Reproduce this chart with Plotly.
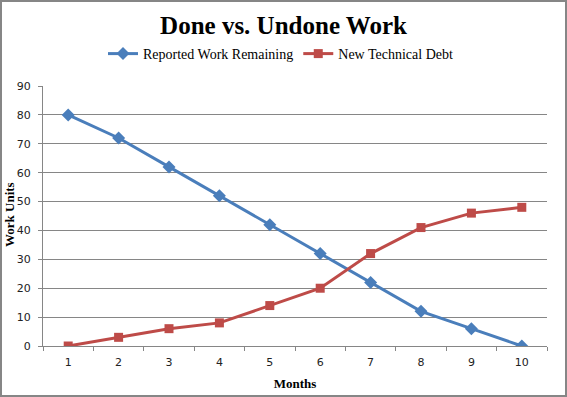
import plotly.graph_objects as go

months = ["1", "2", "3", "4", "5", "6", "7", "8", "9", "10"]
work_remaining = [80, 72, 62, 52, 42, 32, 22, 12, 6, 0]
tech_debt = [0, 3, 6, 8, 14, 20, 32, 41, 46, 48]
y_ticks = [0, 10, 20, 30, 40, 50, 60, 70, 80, 90]

W, H = 567, 397
ml, mr, mt, mb = 43, 20, 86, 51
pw, ph = W - ml - mr, H - mt - mb

fig = go.Figure()
fig.add_trace(go.Scatter(
    x=months, y=work_remaining, name="Reported Work Remaining",
    mode="lines+markers",
    line=dict(color="#4A7EBB", width=3),
    marker=dict(symbol="diamond", size=10, color="#4A7EBB"),
))
fig.add_trace(go.Scatter(
    x=months, y=tech_debt, name="New Technical Debt",
    mode="lines+markers",
    line=dict(color="#BE4B48", width=3),
    marker=dict(symbol="square", size=9, color="#BE4B48"),
))

fig.update_layout(
    width=W, height=H,
    margin=dict(l=ml, r=mr, t=mt, b=mb, pad=0, autoexpand=False),
    paper_bgcolor="white", plot_bgcolor="white",
    title=dict(text="<b>Done vs. Undone Work</b>", x=0.5, xref="container", xanchor="center",
               y=1 - 25 / H, yanchor="middle", automargin=False,
               font=dict(family="Liberation Serif", size=25, color="black")),
    showlegend=True,
    legend=dict(orientation="h", x=(103 - ml) / pw, xanchor="left",
                y=1 + (mt - 54) / ph, yanchor="middle",
                font=dict(family="Liberation Serif", size=14, color="black"),
                itemwidth=30, tracegroupgap=0, bgcolor="rgba(0,0,0,0)"),
    xaxis=dict(type="category", range=[-0.5, 9.5], tickson="boundaries", ticks="outside", ticklen=4,
               automargin=False, ticklabelstandoff=6,
               tickcolor="#868686", showline=True, linecolor="#868686", linewidth=1,
               showgrid=False, tickfont=dict(family="DejaVu Sans", size=11, color="#222"),
               title=dict(text="<b>Months</b>", standoff=10,
                          font=dict(family="Liberation Serif", size=13, color="black"))),
    yaxis=dict(range=[0, 90], tickvals=y_ticks, ticks="outside", ticklen=4,
               automargin=False, ticklabelstandoff=5,
               tickcolor="#868686", showline=True, linecolor="#868686", linewidth=1,
               showgrid=True, gridcolor="#868686", gridwidth=1, zeroline=False,
               tickfont=dict(family="DejaVu Sans", size=11, color="#222")),
    annotations=[dict(text="<b>Work Units</b>", textangle=-90, showarrow=False,
                      xref="paper", yref="paper", x=(9 - ml) / pw, y=(346 - 215) / ph,
                      xanchor="center", yanchor="middle",
                      font=dict(family="Liberation Serif", size=13, color="black"))],
)

fig.add_shape(type="rect", xref="paper", yref="paper",
              x0=-(ml - 1) / pw, x1=1 + (mr - 1) / pw,
              y0=-(mb - 1) / ph, y1=1 + (mt - 1) / ph,
              line=dict(color="#868686", width=2), layer="below")

fig.write_html("out.html", config={"displayModeBar": False},
               post_script="document.body.style.margin='0';document.body.style.overflow='hidden';")
